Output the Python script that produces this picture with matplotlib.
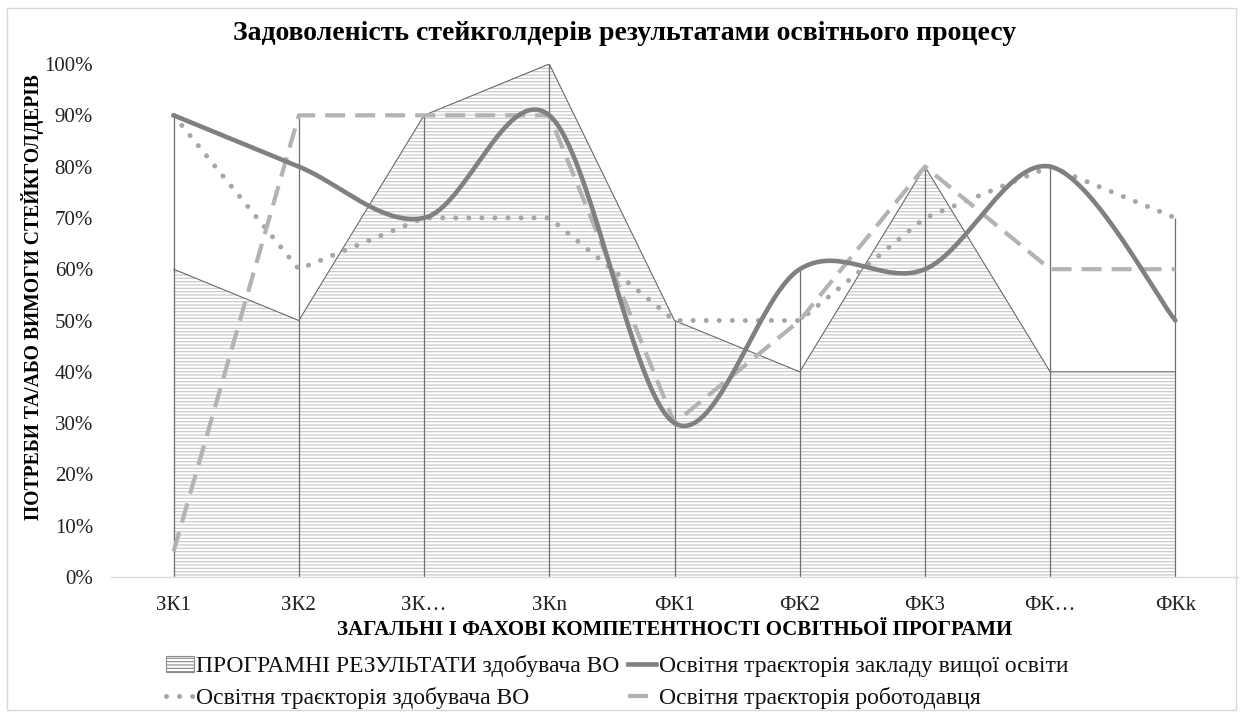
import numpy as np
import matplotlib
matplotlib.use("Agg")
import matplotlib.pyplot as plt
from matplotlib.patches import Rectangle
from matplotlib.lines import Line2D
from matplotlib.font_manager import FontProperties

plt.rcParams['font.family'] = ['Liberation Serif', 'DejaVu Serif']
plt.rcParams['hatch.linewidth'] = 0.8

categories = ['ЗК1', 'ЗК2', 'ЗК…', 'ЗКn', 'ФК1', 'ФК2', 'ФК3', 'ФК…', 'ФКk']
program_results = [0.60, 0.50, 0.90, 1.00, 0.50, 0.40, 0.80, 0.40, 0.40]
hei_trajectory = [0.90, 0.80, 0.70, 0.90, 0.30, 0.60, 0.60, 0.80, 0.50]
student_trajectory = [0.90, 0.60, 0.70, 0.70, 0.50, 0.50, 0.70, 0.80, 0.70]
employer_trajectory = [0.05, 0.90, 0.90, 0.90, 0.30, 0.50, 0.80, 0.60, 0.60]
yticks = [0.0, 0.1, 0.2, 0.3, 0.4, 0.5, 0.6, 0.7, 0.8, 0.9, 1.0]

title = 'Задоволеність стейкголдерів результатами освітнього процесу'
xlabel = 'ЗАГАЛЬНІ І ФАХОВІ КОМПЕТЕНТНОСТІ ОСВІТНЬОЇ ПРОГРАМИ'
ylabel = 'ПОТРЕБИ ТА/АБО ВИМОГИ СТЕЙКГОЛДЕРІВ'
labels = ['ПРОГРАМНІ РЕЗУЛЬТАТИ здобувача ВО',
          'Освітня траєкторія закладу вищої освіти',
          'Освітня траєкторія здобувача ВО',
          'Освітня траєкторія роботодавця']


def smooth(xs, ys, n=40):
    p = np.column_stack([xs, ys]).astype(float)
    out = []
    m = len(p)
    t = np.linspace(0, 1, n)[:, None]
    for i in range(m - 1):
        p0 = p[i - 1] if i > 0 else p[i]
        p1 = p[i]
        p2 = p[i + 1]
        p3 = p[i + 2] if i + 2 < m else p[i + 1]
        c1 = p1 + (p2 - p0) / 6
        c2 = p2 - (p3 - p1) / 6
        seg = ((1 - t) ** 3) * p1 + 3 * ((1 - t) ** 2) * t * c1 + 3 * (1 - t) * t ** 2 * c2 + t ** 3 * p2
        out.append(seg if i == 0 else seg[1:])
    s = np.vstack(out)
    return s[:, 0], s[:, 1]


fig = plt.figure(figsize=(12.41, 7.13), dpi=100)
fig.patches.append(Rectangle((0.006, 0.004), 0.99, 0.985, transform=fig.transFigure,
                             fill=False, edgecolor='#d9d9d9', linewidth=1.0))
ax = fig.add_axes([111 / 1241, 1 - 577 / 713, (1238 - 111) / 1241, (577 - 64) / 713])

x = np.arange(len(categories))

# area with fine horizontal pattern
ax.fill_between(x, 0, program_results, facecolor='white', edgecolor='#c6c6c6',
                hatch='-----', linewidth=0, zorder=1)
ax.plot(x, program_results, color='#6a6a6a', linewidth=0.8, zorder=2)

# drop lines
tops = np.max(np.vstack([program_results, hei_trajectory, student_trajectory,
                         employer_trajectory]), axis=0)
ax.vlines(x, 0, tops, colors='#6f6f6f', linewidth=0.9, zorder=2)

# lines
sx, sy = smooth(x, hei_trajectory)
ax.plot(sx, sy, color='#808080', linewidth=3.3, solid_capstyle='round', zorder=4,
        clip_on=False)
ax.plot(x, student_trajectory, color='#a6a6a6', linewidth=3.6, linestyle=(0, (0.01, 2.6)),
        dash_capstyle='round', zorder=3, clip_on=False)
ax.plot(x, employer_trajectory, color='#b3b3b3', linewidth=3.0, linestyle=(0, (4.8, 2.4)),
        zorder=3, clip_on=False)

ax.set_xlim(-0.5, len(categories) - 0.5)
ax.set_ylim(0, 1.0)
ax.set_yticks(yticks)
ax.set_yticklabels([f'{int(round(v * 100))}%' for v in yticks])
ax.set_xticks(x)
ax.set_xticklabels(categories)
ax.tick_params(axis='both', length=0, labelsize=15, colors='#404040', labelcolor='#222222')
ax.tick_params(axis='y', pad=13)
ax.tick_params(axis='x', pad=14)
for s in ['top', 'right', 'left']:
    ax.spines[s].set_visible(False)
ax.spines['bottom'].set_color('#d9d9d9')
ax.spines['bottom'].set_linewidth(1.0)

fig.text(0.503, 0.953, title, ha='center', va='center', fontsize=20, fontweight='bold')
fig.text(0.544, 1 - 630 / 713, xlabel, ha='center', va='center', fontsize=15,
         fontweight='bold')
fig.text(33 / 1241, 1 - 297 / 713, ylabel, ha='center', va='center', fontsize=14.1,
         fontweight='bold', rotation=90)

h_area = Rectangle((0, 0), 1, 1, facecolor='white', edgecolor='#8a8a8a', hatch='-----',
                   linewidth=0.8)
h_hei = Line2D([], [], color='#808080', linewidth=3.3)
h_stu = Line2D([], [], color='#a6a6a6', linewidth=3.6, linestyle=(0, (0.01, 2.6)),
               dash_capstyle='round')
h_emp = Line2D([], [], color='#b3b3b3', linewidth=3.0, linestyle=(0, (4.8, 2.4)))
leg_font = FontProperties(family='Liberation Serif', size=17)
leg = fig.legend([h_area, h_stu, h_hei, h_emp],
                 [labels[0], labels[2], labels[1], labels[3]],
                 ncol=2, loc='center', bbox_to_anchor=(0.497, 1 - 682 / 713),
                 frameon=False, prop=leg_font, handlelength=1.2, handletextpad=0.1,
                 columnspacing=0.35, labelspacing=0.42, borderpad=0)
for t in leg.get_texts():
    t.set_fontfamily('Liberation Serif')
    t.set_color('#111111')

fig.savefig('out.png', dpi=100)
